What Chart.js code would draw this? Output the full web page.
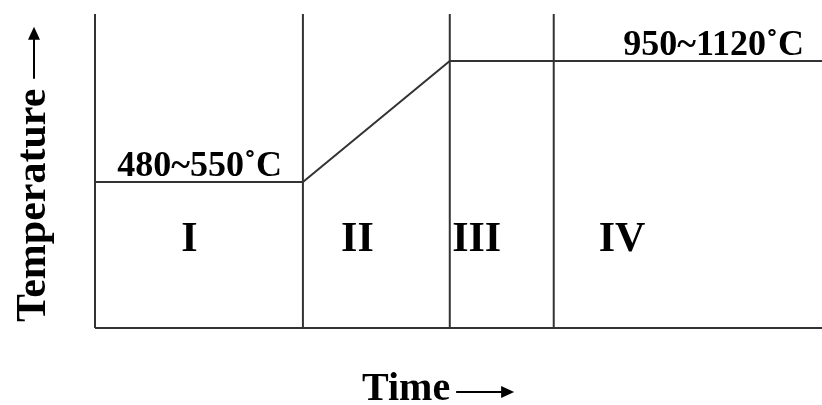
<!DOCTYPE html>
<html>
<head>
<meta charset="utf-8">
<title>Temperature profile</title>
<script src="https://cdn.jsdelivr.net/npm/chart.js@4.4.0/dist/chart.umd.min.js"></script>
<style>
    html, body { margin: 0; padding: 0; background: #fff; }
    #wrap { width: 822px; height: 405px; }
</style>
</head>
<body>
<div id="wrap"><canvas id="profileChart" width="822" height="405"></canvas></div>
<script>
// ===================================
// Heating schedule - time vs temperature (schematic units 0..100)
// ===================================

// Stage boundaries along the time axis (0 = origin)
const stageBounds = [0, 28.6, 48.8, 63.1];
const axisTop = 100;
const timeEnd = 100;

// Temperature profile
const profileTime = [0, 28.6, 48.8, 100];
const profileTemp = [46.5, 46.5, 85, 85];

// Stage names and where they sit
const stageNames = ['I', 'II', 'III', 'IV'];
const stageLabelX = [13.0, 36.1, 52.5, 72.5];
const stageLabelY = 28;

// Temperature range notes
const rangeNotes = ['480~550˚C', '950~1120˚C'];
const rangeNoteX = [14.4, 85.1];
const rangeNoteY = [48.4, 86.9];

const lineColor = '#333333';

// Build datasets
const datasets = [];

// stage boundary lines (the first one is the temperature axis)
stageBounds.forEach(x => {
    datasets.push({
        data: [{ x: x, y: 0 }, { x: x, y: axisTop }],
        borderColor: lineColor,
        borderWidth: 2,
        pointRadius: 0,
        clip: false
    });
});

// time axis
datasets.push({
    data: [{ x: 0, y: 0 }, { x: timeEnd, y: 0 }],
    borderColor: lineColor,
    borderWidth: 2,
    pointRadius: 0,
    clip: false
});

// profile
datasets.push({
    data: profileTime.map((t, i) => ({ x: t, y: profileTemp[i] })),
    borderColor: lineColor,
    borderWidth: 2,
    pointRadius: 0,
    tension: 0,
    clip: false
});

// Text labels and axis titles
const labelPlugin = {
    id: 'labels',
    afterDraw(chart) {
        const ctx = chart.ctx;
        const xs = chart.scales.x;
        const ys = chart.scales.y;
        const area = chart.chartArea;
        ctx.save();
        ctx.fillStyle = '#000';
        ctx.strokeStyle = '#000';

        // stage numerals
        ctx.font = 'bold 42px "Liberation Serif"';
        ctx.textAlign = 'center';
        ctx.textBaseline = 'middle';
        stageNames.forEach((name, i) => {
            ctx.fillText(name, xs.getPixelForValue(stageLabelX[i]), ys.getPixelForValue(stageLabelY));
        });

        // temperature ranges
        ctx.font = 'bold 36px "Liberation Serif"';
        ctx.textBaseline = 'alphabetic';
        rangeNotes.forEach((note, i) => {
            ctx.fillText(note, xs.getPixelForValue(rangeNoteX[i]), ys.getPixelForValue(rangeNoteY[i]));
        });

        // x axis title "Time" with arrow
        ctx.font = 'bold 40px "Liberation Serif"';
        ctx.textAlign = 'left';
        const tx = area.left + 267;
        const ty = area.bottom + 72;
        ctx.fillText('Time', tx, ty);
        const tw = ctx.measureText('Time').width;
        drawArrow(ctx, tx + tw + 6, ty - 8, tx + tw + 64, ty - 8);

        // y axis title "Temperature" with arrow
        ctx.font = 'bold 42px "Liberation Serif"';
        ctx.save();
        const yx = 45;
        const yy = area.bottom - 6;
        ctx.translate(yx, yy);
        ctx.rotate(-Math.PI / 2);
        ctx.fillText('Temperature', 0, 0);
        const yw = ctx.measureText('Temperature').width;
        drawArrow(ctx, yw + 10, -11, yw + 62, -11);
        ctx.restore();

        ctx.restore();
    }
};

function drawArrow(ctx, x1, y1, x2, y2) {
    ctx.lineWidth = 2;
    ctx.beginPath();
    ctx.moveTo(x1, y1);
    ctx.lineTo(x2 - 10, y2);
    ctx.stroke();
    ctx.beginPath();
    ctx.moveTo(x2, y2);
    ctx.lineTo(x2 - 13, y2 - 6);
    ctx.lineTo(x2 - 13, y2 + 6);
    ctx.closePath();
    ctx.fill();
}

new Chart(document.getElementById('profileChart'), {
    type: 'line',
    data: { datasets: datasets },
    options: {
        responsive: false,
        animation: false,
        events: [],
        layout: {
            padding: { left: 95, top: 14, right: 0, bottom: 77 }
        },
        plugins: {
            legend: { display: false },
            tooltip: { enabled: false }
        },
        scales: {
            x: { type: 'linear', min: 0, max: timeEnd, display: false },
            y: { type: 'linear', min: 0, max: axisTop, display: false }
        }
    },
    plugins: [labelPlugin]
});
</script>
</body>
</html>
